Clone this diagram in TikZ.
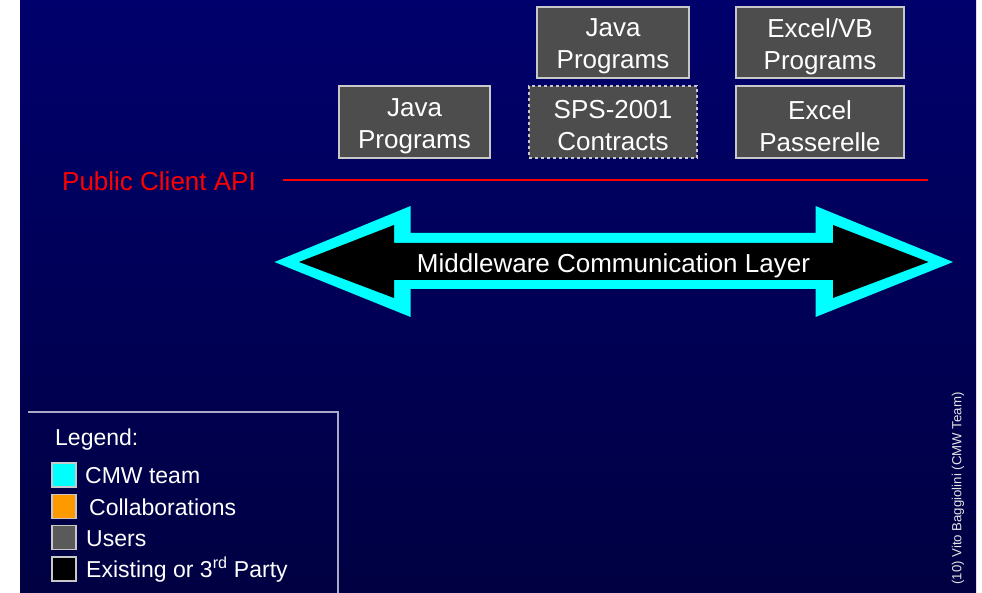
\documentclass[tikz,border=0pt]{standalone}
\usepackage{fontspec}
\setmainfont{Liberation Sans}
\definecolor{bgtop}{RGB}{0,0,108}
\definecolor{bgmid}{RGB}{0,0,155}
\definecolor{bgbot}{RGB}{0,0,66}
\definecolor{boxfill}{RGB}{77,77,77}
\definecolor{boxline}{RGB}{200,200,200}
\definecolor{cmwcyan}{RGB}{0,255,255}
\definecolor{collorange}{RGB}{255,153,0}
\definecolor{usergray}{RGB}{90,90,90}
\definecolor{apired}{RGB}{255,0,0}
\definecolor{legline}{RGB}{170,170,200}
\begin{document}
\begin{tikzpicture}[x=1pt,y=-1pt,
  userbox/.style={draw=boxline, line width=1.5pt, fill=boxfill, inner sep=0pt},
  usertext/.style={text=white, align=center, inner sep=0pt, yshift=-4pt, font=\fontsize{26}{32}\selectfont},
  legsq/.style={draw=boxline, line width=1.2pt, minimum width=24pt, minimum height=24pt, inner sep=0pt},
  legtext/.style={text=white, anchor=west, inner sep=0pt, font=\fontsize{23}{27}\selectfont}]
\useasboundingbox (0,0) rectangle (982,593);
\fill[white] (0,0) rectangle (982,593);
\shade[top color=bgtop, middle color=bgmid, bottom color=bgbot] (20,0) rectangle (976,593);

% user boxes
\node[userbox, minimum width=152pt, minimum height=71pt,
  label={[usertext]center:{Java\\Programs}}] (javatop) at (613,42.5) {};
\node[userbox, minimum width=168pt, minimum height=71pt,
  label={[usertext]center:{Excel/VB\\Programs}}] (excelvb) at (820,42.5) {};
\node[userbox, minimum width=151pt, minimum height=72pt,
  label={[usertext]center:{Java\\Programs}}] (javaleft) at (414.5,122) {};
\node[userbox, dashed, minimum width=168pt, minimum height=72pt,
  label={[usertext]center:{SPS-2001\\Contracts}}] (sps) at (613,122) {};
\node[userbox, minimum width=168pt, minimum height=72pt,
  label={[usertext]center:{Excel\\Passerelle}}] (excelp) at (820,122) {};

% public client API
\node[text=apired, anchor=west, inner sep=0pt, font=\fontsize{26}{30}\selectfont] (api) at (62,181) {Public Client API};
\coordinate (apiL) at (283,180);
\coordinate (apiR) at (928,180);
\draw[apired, line width=2.8pt] (apiL) -- (apiR);

% middleware double arrow
\fill[cmwcyan] (274.5,262) -- (410.6,206) -- (410.6,233) -- (815.5,233) -- (815.5,206) -- (953,262)
  -- (815.5,317) -- (815.5,289) -- (410.6,289) -- (410.6,317) -- cycle;
\fill[black] (299,262) -- (394,225) -- (394,243) -- (833,243) -- (833,225) -- (928.5,262)
  -- (833,298) -- (833,280) -- (394,280) -- (394,298) -- cycle;
\node[text=white, inner sep=0pt, font=\fontsize{26}{30}\selectfont] (mw) at (613.5,265.5) {Middleware Communication Layer};

% legend
\coordinate (legA) at (28,412);
\coordinate (legB) at (338,412);
\coordinate (legC) at (338,593);
\draw[legline, line width=1.5pt] (legA) -- (legB) -- (legC);
\node[legtext] (legtitle) at (55,440) {Legend:};
\node[legsq, fill=cmwcyan] (sq1) at (64,475) {};
\node[legsq, fill=collorange] (sq2) at (64,506.5) {};
\node[legsq, fill=usergray] (sq3) at (64,537.5) {};
\node[legsq, fill=black] (sq4) at (64,569) {};
\node[legtext] (t1) at (85,476) {CMW team};
\node[legtext] (t2) at (89,507.5) {Collaborations};
\node[legtext] (t3) at (86,538.5) {Users};
\node[legtext] (t4) at (86,569.5) {Existing or 3\textsuperscript{rd} Party};

% author
\node[rotate=90, text=white!80!gray, inner sep=0pt, font=\fontsize{13.2}{15}\selectfont] (author) at (958,488.5) {(10) Vito Baggiolini (CMW Team)};
\end{tikzpicture}
\end{document}
